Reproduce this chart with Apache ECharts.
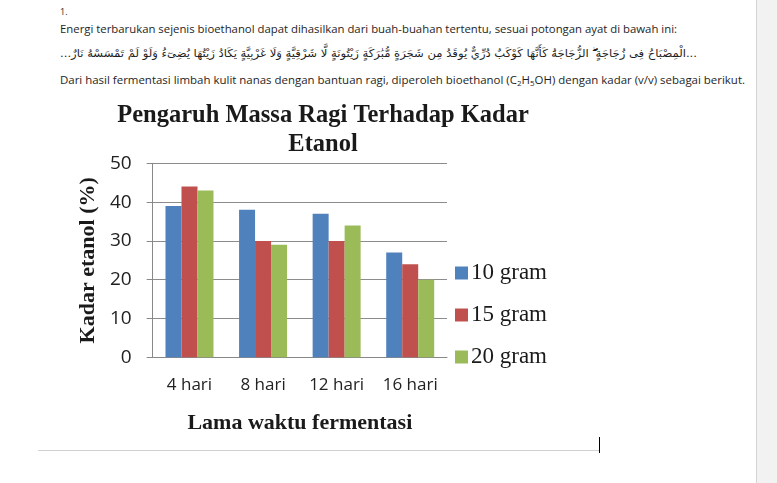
<!DOCTYPE html>
<html>
<head>
<meta charset="utf-8">
<script src="https://cdn.jsdelivr.net/npm/echarts@6/dist/echarts.min.js"></script>
<style>
    html, body {
        margin: 0;
        padding: 0;
        width: 777px;
        height: 483px;
        background: #fff;
        overflow: hidden;
    }
    
    .doc {
        position: absolute;
        left: 60px;
        font-family: "Open Sans", "Noto Sans", sans-serif;
        font-size: 11.5px;
        color: #1e1e1e;
        white-space: nowrap;
    }
    
    .arab {
        font-family: "DejaVu Sans", sans-serif;
        font-size: 11px;
        direction: rtl;
    }
    
    .doc sub {
        font-size: 8px;
        vertical-align: -2px;
    }
    
    #chart {
        position: absolute;
        left: 0;
        top: 0;
        width: 777px;
        height: 483px;
    }
    
    .sidebar {
        position: absolute;
        left: 756px;
        top: 0;
        width: 21px;
        height: 483px;
        background: #f2f2f2;
        border-left: 1px solid #d4d4d4;
    }
    
    .hr {
        position: absolute;
        left: 38px;
        top: 450px;
        width: 562px;
        height: 1px;
        background: #d0d0d0;
    }
    
    .cursor {
        position: absolute;
        left: 599px;
        top: 437px;
        width: 1px;
        height: 16px;
        background: #000;
    }
</style>
</head>
<body>
<div class="doc" style="top:5px;font-size:9px;">1.</div>
<div class="doc" id="line1" style="top:21px;">Energi terbarukan sejenis bioethanol dapat dihasilkan dari buah-buahan tertentu, sesuai potongan ayat di bawah ini:</div>
<div class="doc arab" id="line2" style="top:47px;">...الْمِصْبَاحُ فِى زُجَاجَةٍ ۖ الزُّجَاجَةُ كَأَنَّهَا كَوْكَبٌ دُرِّيٌّ يُوقَدُ مِن شَجَرَةٍ مُّبَٰرَكَةٍ زَيْتُونَةٍ لَّا شَرْقِيَّةٍ وَلَا غَرْبِيَّةٍ يَكَادُ زَيْتُهَا يُضِىٓءُ وَلَوْ لَمْ تَمْسَسْهُ نَارٌ...</div>
<div class="doc" id="line3" style="top:72px;">Dari hasil fermentasi limbah kulit nanas dengan bantuan ragi, diperoleh bioethanol (C<sub>2</sub>H<sub>5</sub>OH) dengan kadar (v/v) sebagai berikut.</div>
<div id="chart"></div>
<div class="sidebar"></div>
<div class="hr"></div>
<div class="cursor"></div>
<script>
    // data
    var categories = ['4 hari', '8 hari', '12 hari', '16 hari'];
    var seriesNames = ['10 gram', '15 gram', '20 gram'];
    var gram10 = [39, 38, 37, 27];
    var gram15 = [44, 30, 30, 24];
    var gram20 = [43, 29, 34, 20];
    var colors = ['#4F81BD', '#C0504D', '#9BBB59'];

    // stretch document lines to their widths in the picture
    function fitWidth(id, w) {
        var el = document.getElementById(id);
        var cur = el.getBoundingClientRect().width;
        el.style.transformOrigin = 'left top';
        el.style.transform = 'scaleX(' + (w / cur) + ')';
    }
    fitWidth('line1', 617);
    fitWidth('line2', 637);
    fitWidth('line3', 685);

    var serif = '"Liberation Serif", "DejaVu Serif", serif';
    var sans = '"Open Sans", "Noto Sans", sans-serif';

    var myChart = echarts.init(document.getElementById('chart'));
    var option = {
        animation: false,
        title: {
            text: 'Pengaruh Massa Ragi Terhadap Kadar\nEtanol',
            left: 323,
            top: 101.5,
            padding: 0,
            textAlign: 'center',
            textStyle: {
                fontFamily: serif,
                fontWeight: 'bold',
                fontSize: 24.5,
                lineHeight: 29,
                color: '#1a1a1a'
            }
        },
        legend: {
            data: seriesNames,
            orient: 'vertical',
            left: 455,
            top: 261.5,
            padding: 0,
            icon: 'rect',
            itemWidth: 13,
            itemHeight: 13,
            itemGap: 19,
            textStyle: {
                fontFamily: serif,
                fontSize: 23,
                color: '#1a1a1a',
                padding: [0, 0, 0, -2]
            }
        },
        grid: {
            left: 152.7,
            right: 330,
            top: 163.3,
            bottom: 125.7
        },
        xAxis: {
            type: 'category',
            data: categories,
            name: 'Lama waktu fermentasi',
            nameLocation: 'middle',
            nameGap: 55,
            nameTextStyle: {
                fontFamily: serif,
                fontWeight: 'bold',
                fontSize: 22,
                color: '#1a1a1a'
            },
            axisLine: {
                lineStyle: {
                    color: '#888'
                }
            },
            axisTick: {
                show: false
            },
            axisLabel: {
                interval: 0,
                margin: 19,
                fontFamily: sans,
                fontSize: 17,
                color: '#222'
            }
        },
        yAxis: {
            type: 'value',
            min: 0,
            max: 50,
            interval: 10,
            name: 'Kadar etanol (%)',
            nameLocation: 'middle',
            nameGap: 53,
            nameTextStyle: {
                fontFamily: serif,
                fontWeight: 'bold',
                fontSize: 22,
                color: '#1a1a1a'
            },
            axisLine: {
                show: true,
                lineStyle: {
                    color: '#888'
                }
            },
            axisTick: {
                show: true,
                length: 6,
                lineStyle: {
                    color: '#888'
                }
            },
            splitLine: {
                lineStyle: {
                    color: '#8c8c8c'
                }
            },
            axisLabel: {
                margin: 21,
                fontFamily: sans,
                fontSize: 19,
                color: '#222'
            }
        },
        series: [{
            name: seriesNames[0],
            type: 'bar',
            barWidth: 16,
            barGap: '0%',
            color: colors[0],
            data: gram10
        }, {
            name: seriesNames[1],
            type: 'bar',
            barWidth: 16,
            barGap: '0%',
            color: colors[1],
            data: gram15
        }, {
            name: seriesNames[2],
            type: 'bar',
            barWidth: 16,
            barGap: '0%',
            color: colors[2],
            data: gram20
        }]
    };
    myChart.setOption(option);
</script>
</body>
</html>
